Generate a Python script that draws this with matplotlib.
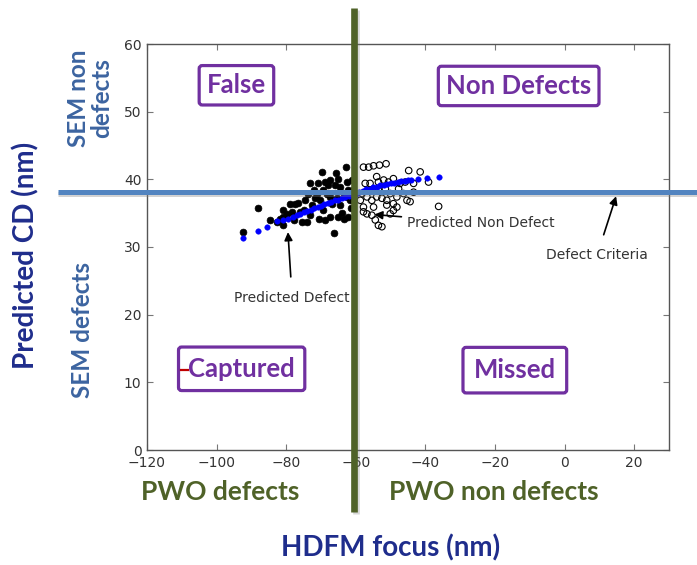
import matplotlib
matplotlib.use("Agg")
import matplotlib.pyplot as plt
import matplotlib.patheffects as pe
from matplotlib.lines import Line2D

# ---------------- data ----------------
defect_x = [-92.3, -88.0, -82.7, -81.0, -81.0, -80.8, -78.9, -78.4, -77.9, -76.5, -76.0, -75.5,
            -75.0, -73.9, -73.1, -72.6, -73.1, -71.7, -71.0, -70.2, -69.8, -69.5, -68.8, -68.3,
            -67.9, -67.4, -67.4, -66.9, -66.4, -65.6, -65.4, -65.2, -64.5, -63.5, -63.3, -62.8,
            -62.6, -62.1, -61.6, -61.4, -61.1, -64.5, -69.3, -65.9, -71.2, -62.6, -61.1, -73.6,
            -74.5, -77.4, -79.8, -81.7, -84.6, -70.7, -68.8, -64.0, -62.1, -60.7, -60.7, -67.4,
            -72.1, -65.0]
defect_y = [32.2, 35.7, 33.7, 35.5, 34.5, 33.2, 36.4, 35.2, 34.0, 36.5, 35.2, 33.7,
            35.4, 33.7, 34.7, 36.2, 39.4, 37.2, 39.4, 36.9, 41.1, 35.4, 39.6, 37.9,
            39.1, 37.4, 34.5, 36.4, 32.0, 40.9, 37.2, 34.5, 38.9, 37.9, 34.2, 41.8,
            39.6, 38.4, 36.9, 35.7, 39.9, 36.2, 38.4, 39.1, 37.9, 37.4, 37.9, 37.9,
            36.9, 36.4, 34.9, 34.2, 34.0, 34.2, 34.0, 35.0, 34.5, 36.9, 38.4, 39.9,
            38.4, 40.1]

nondefect_x = [-57.8, -56.3, -54.9, -53.2, -51.3, -57.3, -55.9, -54.0, -53.5, -52.0, -50.6, -49.2,
               -56.8, -55.4, -54.0, -52.5, -51.1, -49.2, -48.2, -46.3, -45.3, -44.4, -57.8, -54.9,
               -51.1, -49.2, -48.2, -57.8, -56.8, -55.4, -50.1, -52.5, -44.8, -41.5, -47.3, -45.8,
               -43.4, -39.1, -36.2, -58.7, -58.2, -53.5, -51.5, -56.3, -50.1, -47.7, -43.4, -54.4,
               -53.5]
nondefect_y = [41.8, 41.8, 42.0, 42.1, 42.3, 39.4, 39.4, 40.4, 39.6, 39.9, 39.6, 40.1,
               37.4, 36.9, 37.4, 37.2, 36.9, 36.4, 37.4, 37.9, 36.9, 36.7, 35.9, 35.9,
               36.2, 35.4, 35.9, 35.2, 34.9, 34.7, 34.9, 33.0, 41.3, 41.1, 39.4, 39.6,
               39.4, 39.6, 36.0, 36.9, 37.9, 38.4, 38.6, 38.4, 37.9, 38.6, 38.1, 34.0,
               33.2]

pred_x = [-92.3, -88.0, -85.6, -82.7, -81.0, -79.5, -78.0, -77.0, -76.0, -75.0, -74.0, -73.0,
          -72.0, -71.0, -70.0, -69.0, -68.0, -67.0, -66.0, -65.0, -64.0, -63.0, -62.0, -61.0,
          -60.0, -59.0, -58.0, -57.0, -56.0, -55.0, -54.0, -53.0, -52.0, -51.0, -50.0, -49.0,
          -48.0, -47.0, -46.0, -45.0, -44.0, -42.0, -39.5, -36.2]
pred_y = [31.4, 32.4, 33.0, 33.8, 34.0, 34.2, 34.5, 34.7, 34.9, 35.1, 35.3, 35.5,
          35.7, 35.9, 36.1, 36.3, 36.5, 36.7, 36.9, 37.0, 37.2, 37.4, 37.6, 37.8,
          37.9, 38.1, 38.3, 38.5, 38.6, 38.8, 38.9, 39.1, 39.2, 39.3, 39.4, 39.5,
          39.6, 39.7, 39.8, 39.9, 39.9, 40.0, 40.2, 40.3]

defect_criteria = 38.2     # predicted CD threshold
focus_criteria = -60.4     # HDFM focus threshold

x_ticks = [-120, -100, -80, -60, -40, -20, 0, 20]
y_ticks = [0, 10, 20, 30, 40, 50, 60]

# ---------------- figure ----------------
W, H = 697, 565
fig = plt.figure(figsize=(W / 100, H / 100), dpi=100)
ax = fig.add_axes([147 / W, 1 - 450 / H, (669 - 147) / W, (450 - 44) / H])

ax.set_xlim(-120, 30)
ax.set_ylim(0, 60)
ax.set_xticks(x_ticks)
ax.set_yticks(y_ticks)
ax.tick_params(direction='in', top=True, right=True, length=4, width=0.8,
               color='#777777', labelsize=10, labelcolor='#333333', pad=4)
for s in ax.spines.values():
    s.set_color('#555555')
    s.set_linewidth(1.0)

ax.scatter(defect_x, defect_y, s=24, c='black', edgecolors='black', linewidths=0.5, zorder=3)
ax.scatter(nondefect_x, nondefect_y, s=22, facecolors='none', edgecolors='black', linewidths=0.8, zorder=3)
ax.scatter(pred_x, pred_y, s=16, c='blue', edgecolors='blue', linewidths=0.3, zorder=4)

# threshold lines extending past the axes
blue_line = '#5284c0'
green_line = '#4f6228'
ax.plot([-145.6, 38.5], [defect_criteria, defect_criteria], color=blue_line, lw=3.6,
        clip_on=False, zorder=6, solid_capstyle='butt',
        path_effects=[pe.SimpleLineShadow(offset=(0, -1.5), shadow_color='gray', alpha=0.35), pe.Normal()])
ax.plot([focus_criteria, focus_criteria], [65.3, -9.2], color=green_line, lw=4.8,
        clip_on=False, zorder=7, solid_capstyle='butt',
        path_effects=[pe.SimpleLineShadow(offset=(1, -1), shadow_color='gray', alpha=0.3), pe.Normal()])

# annotations
ann_kw = dict(fontsize=10, color='#333333', family='DejaVu Sans')
arr = dict(arrowstyle='-|>', color='black', lw=1.2, mutation_scale=12)
ax.annotate('Predicted Defect', xy=(-79.5, 32.2), xytext=(-78.3, 22.5),
            ha='center', va='center', arrowprops=dict(arr, shrinkA=8, shrinkB=0), **ann_kw)
ax.annotate('Predicted Non Defect', xy=(-54.7, 34.8), xytext=(-45.3, 33.5),
            ha='left', va='center', arrowprops=dict(arr, shrinkA=2, shrinkB=0), **ann_kw)
ax.annotate('Defect Criteria', xy=(14.8, 37.5), xytext=(-5.3, 28.8),
            ha='left', va='center', arrowprops=dict(arr, shrinkA=8, shrinkB=0), **ann_kw)

# quadrant boxes
purple = '#7030a0'
box_kw = dict(fontsize=18.5, fontweight='bold', color=purple, family='Lato', ha='center', va='center',
              zorder=8)
def boxed(x, y, txt, pad):
    ax.text(x, y, txt, bbox=dict(boxstyle='round,pad=%s,rounding_size=0.12' % pad,
                                 fc='white', ec=purple, lw=2.3), **box_kw)

boxed(-94.3, 53.9, 'False', 0.3)
boxed(-13.2, 53.8, 'Non Defects', 0.3)
boxed(-92.8, 12.0, 'Captured', 0.38)
boxed(-14.3, 11.8, 'Missed', 0.42)
# small red mark before "Captured"
fig.add_artist(Line2D([181 / W, 188 / W], [1 - 370 / H, 1 - 370 / H], color='#c00000', lw=1.6, zorder=9))

# outer labels
navy = '#1f2d8c'
steel = '#3c64a0'
olive = '#4f6228'
fig.text(26 / W, 1 - 255 / H, 'Predicted CD (nm)', rotation=90, ha='center', va='center',
         fontsize=20, fontweight='bold', color=navy, family='Lato')
fig.text(391 / W, 1 - 548 / H, 'HDFM focus (nm)', ha='center', va='center',
         fontsize=20, fontweight='bold', color=navy, family='Lato')
fig.text(90 / W, 1 - 98 / H, 'SEM non\ndefects', rotation=90, ha='center', va='center',
         fontsize=17.5, fontweight='bold', color=steel, family='Lato', linespacing=1.0)
fig.text(82 / W, 1 - 330 / H, 'SEM defects', rotation=90, ha='center', va='center',
         fontsize=17.5, fontweight='bold', color=steel, family='Lato')
fig.text(220 / W, 1 - 492 / H, 'PWO defects', ha='center', va='center',
         fontsize=19, fontweight='bold', color=olive, family='Lato')
fig.text(494 / W, 1 - 492 / H, 'PWO non defects', ha='center', va='center',
         fontsize=19, fontweight='bold', color=olive, family='Lato')

fig.savefig('out.png', dpi=100)
